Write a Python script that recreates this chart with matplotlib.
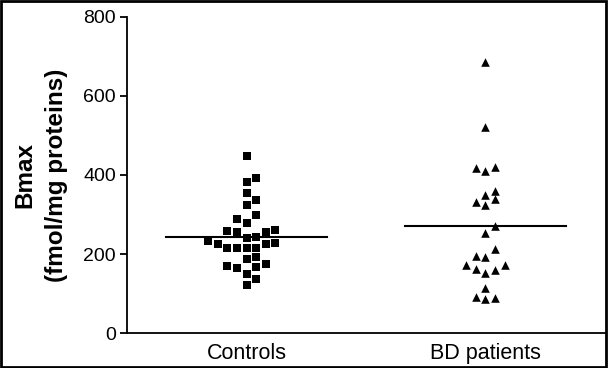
import matplotlib
matplotlib.use('Agg')
import matplotlib.pyplot as plt
from matplotlib.patches import Rectangle

plt.rcParams['font.family'] = ['Liberation Sans', 'DejaVu Sans']

groups = ['Controls', 'BD patients']

controls = [448, 392, 383, 354, 336, 323, 298, 288, 278, 257, 256, 256, 262,
            241, 244, 234, 225, 216, 214, 214, 216, 225, 229, 187, 192, 170,
            165, 168, 174, 150, 137, 122]
controls_col = [0, 1, 0, 0, 1, 0, 1, -1, 0, -2, -1, 2, 3,
                0, 1, -4, -3, -2, -1, 0, 1, 2, 3, 0, 1, -2,
                -1, 1, 2, 0, 1, 0]

bd = [687, 522, 417, 410, 420, 360, 350, 340, 332, 323, 272, 252, 212,
      195, 192, 173, 173, 163, 153, 159, 113, 92, 85, 89]
bd_col = [0, 0, -1, 0, 1, 1, 0, 1, -1, 0, 1, 0, 1,
          -1, 0, -2, 2, -1, 0, 1, 0, -1, 0, 1]

group_lines = [244, 270]

fig = plt.figure(figsize=(6.08, 3.68), dpi=100)
ax = fig.add_axes([0.209, 0.095, 0.786, 0.859])

step = 0.04
ax.scatter([0 + c * step for c in controls_col], controls, marker='s',
           s=36, color='black', linewidths=0, zorder=3)
ax.scatter([1 + c * step for c in bd_col], bd, marker='^',
           s=38, color='black', linewidths=0, zorder=3)

for i, m in enumerate(group_lines):
    ax.plot([i - 0.337, i + 0.337], [m, m], color='black', lw=1.5, zorder=2)

ax.set_xlim(-0.5, 1.5)
ax.set_ylim(0, 800)
ax.set_yticks([0, 200, 400, 600, 800])
ax.set_xticks([0, 1])
ax.set_xticklabels(groups, fontsize=15.5)
ax.tick_params(axis='x', length=0, pad=7)
ax.tick_params(axis='y', length=5, width=1.3, labelsize=14, pad=3)
ax.spines['top'].set_visible(False)
ax.spines['right'].set_visible(False)
ax.spines['left'].set_linewidth(1.3)
ax.spines['bottom'].set_linewidth(1.3)

ax.set_ylabel('Bmax\n(fmol/mg proteins)', fontsize=17.5, fontweight='bold',
              linespacing=1.45, labelpad=11)

fig.patches.append(Rectangle((0.002, 0.003), 0.995, 0.993, transform=fig.transFigure,
                             fill=False, edgecolor='black', lw=2))

fig.savefig('out.png', dpi=100)
